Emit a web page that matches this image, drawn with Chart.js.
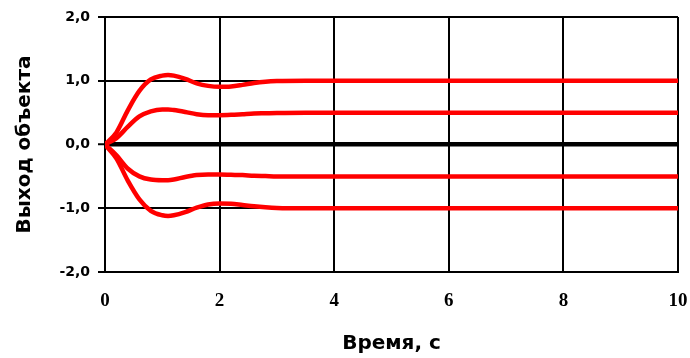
<!DOCTYPE html>
<html>
<head>
<meta charset="utf-8">
<script src="https://cdn.jsdelivr.net/npm/chart.js@4/dist/chart.umd.min.js"></script>
<style>
html,body{margin:0;padding:0;background:#fff;}
#wrap{width:690px;height:358px;}
</style>
</head>
<body>
<div id="wrap"><canvas id="c" width="690" height="358"></canvas></div>
<script>
const time = [0, 0.2, 0.4, 0.6, 0.8, 1.0, 1.1, 1.2, 1.4, 1.6, 1.8, 2.0, 2.2, 2.4, 2.6, 2.8, 3.0, 3.5, 4, 5, 6, 7, 8, 9, 10];
const outPos1 = [0, 0.19, 0.54, 0.84, 1.02, 1.08, 1.09, 1.08, 1.03, 0.96, 0.92, 0.905, 0.91, 0.935, 0.965, 0.985, 0.995, 1.0, 1.0, 1.0, 1.0, 1.0, 1.0, 1.0, 1.0];
const outPos05 = [0, 0.1, 0.28, 0.44, 0.52, 0.55, 0.55, 0.54, 0.51, 0.475, 0.46, 0.46, 0.465, 0.475, 0.485, 0.49, 0.495, 0.5, 0.5, 0.5, 0.5, 0.5, 0.5, 0.5, 0.5];
const outNeg05 = [0, -0.17, -0.38, -0.5, -0.55, -0.56, -0.56, -0.55, -0.51, -0.48, -0.47, -0.47, -0.475, -0.48, -0.49, -0.495, -0.5, -0.5, -0.5, -0.5, -0.5, -0.5, -0.5, -0.5, -0.5];
const outNeg1 = [0, -0.22, -0.57, -0.86, -1.04, -1.11, -1.12, -1.11, -1.06, -0.99, -0.94, -0.925, -0.93, -0.95, -0.97, -0.985, -0.995, -1.0, -1.0, -1.0, -1.0, -1.0, -1.0, -1.0, -1.0];
const yTickValues = [-2, -1, 0, 1, 2];
const yTickLabels = ['-2,0', '-1,0', '0,0', '1,0', '2,0'];
const xTitle = 'Время, с';
const yTitle = 'Выход объекта';

const toPts = arr => arr.map((v, i) => ({x: time[i], y: v}));
const series = [outPos1, outPos05, outNeg05, outNeg1];

new Chart(document.getElementById('c'), {
  type: 'line',
  data: {
    datasets: series.map(s => ({
      data: toPts(s),
      borderColor: '#ff0000',
      backgroundColor: '#ff0000',
      borderWidth: 4.5,
      pointRadius: 0,
      cubicInterpolationMode: 'monotone',
      fill: false
    }))
  },
  options: {
    responsive: false,
    animation: false,
    layout: {padding: {top: 17, right: 12, left: 0, bottom: 0}},
    plugins: {legend: {display: false}, tooltip: {enabled: false}},
    scales: {
      x: {
        type: 'linear', min: 0, max: 10,
        ticks: {stepSize: 2, color: '#000', padding: 18, maxRotation: 0,
          font: {family: 'Liberation Serif', size: 19, weight: 'bold'}},
        grid: {color: '#000', lineWidth: 2, drawTicks: false},
        border: {color: '#000', width: 2},
        title: {display: true, text: xTitle, color: '#000',
          font: {family: 'DejaVu Sans', size: 20, weight: 'bold'},
          padding: {top: 0, bottom: 2}},
        afterFit(s) { s.height = 86; s.paddingLeft = 0; s.paddingRight = 0; }
      },
      y: {
        type: 'linear', min: -2, max: 2,
        afterBuildTicks(s) { s.ticks = yTickValues.map(v => ({value: v})); },
        ticks: {color: '#000', padding: 8,
          callback: (v) => yTickLabels[yTickValues.indexOf(v)],
          font: {family: 'DejaVu Sans', size: 14, weight: 'bold'}},
        grid: {color: '#000', lineWidth: (c) => (c.tick && c.tick.value === 0 ? 4.5 : 2),
          tickLength: 7, tickWidth: 2, tickColor: '#000'},
        border: {color: '#000', width: 2},
        title: {display: true, text: yTitle, color: '#000',
          font: {family: 'DejaVu Sans', size: 20, weight: 'bold'},
          padding: {top: 13, bottom: 0}},
        afterFit(s) { s.width = 105; s.paddingTop = 0; s.paddingBottom = 0; }
      }
    }
  }
});
</script>
</body>
</html>
